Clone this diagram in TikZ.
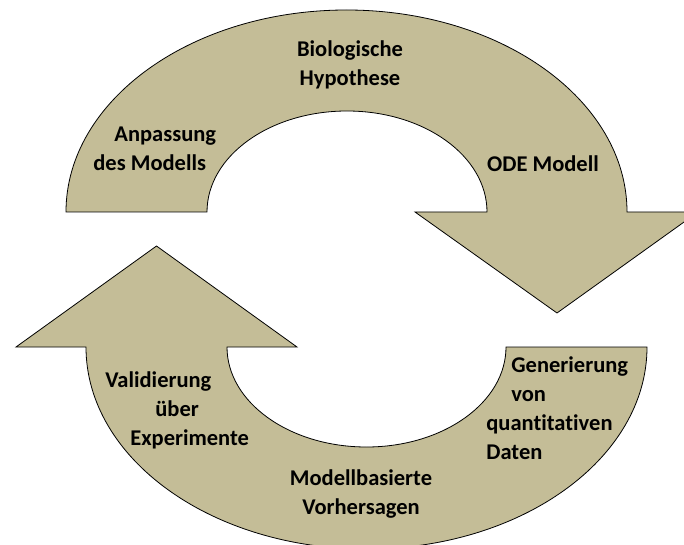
\documentclass[tikz,border=0pt]{standalone}
\usepackage{fontspec}
\setmainfont[Ligatures=NoCommon]{Carlito}
\definecolor{khaki}{RGB}{196,189,151}

\begin{document}
\begin{tikzpicture}[x=1pt,y=1pt,line width=0.8pt]
	\def \topbase{332}
	\def \botbase{197}
	\tikzstyle{band}=[fill=khaki,draw=black,line join=miter]
	\tikzstyle{lbl}=[font=\bfseries\fontsize{22.5}{29}\selectfont,inner sep=0pt]
	\useasboundingbox (0,0) rectangle (684,544);

	% upper arrow
	\draw[band] (66,\topbase) arc[start angle=180,end angle=0,x radius=280.5,y radius=202]
		-- (698,\topbase) -- (557,231) -- (415,\topbase) -- (487,\topbase)
		arc[start angle=0,end angle=180,x radius=140,y radius=101] -- cycle;

	% lower arrow
	\draw[band] (647,\botbase) arc[start angle=0,end angle=-180,x radius=280.5,y radius=202]
		-- (16,\botbase) -- (156.5,298) -- (297,\botbase) -- (227,\botbase)
		arc[start angle=180,end angle=360,x radius=139.5,y radius=100] -- cycle;

	% labels
	\node[lbl,align=center] (hyp) at (350,479.5) {Biologische\\Hypothese};
	\node[lbl] (ode) at (543,380) {ODE Modell};
	\node[lbl,align=left,anchor=west] (anp) at (93,395.5) {\hspace*{21pt}Anpassung\\des Modells};
	\node[lbl,align=left,anchor=west] (val) at (105,134) {Validierung\\\hspace*{50pt}über\\\hspace*{25pt}Experimente};
	\node[lbl,align=left,anchor=west] (gen) at (486,136) {\hspace*{25pt}Generierung\\\hspace*{25pt}von\\quantitativen\\Daten};
	\node[lbl,align=center] (mod) at (361,49.5) {Modellbasierte\\Vorhersagen};
\end{tikzpicture}
\end{document}
